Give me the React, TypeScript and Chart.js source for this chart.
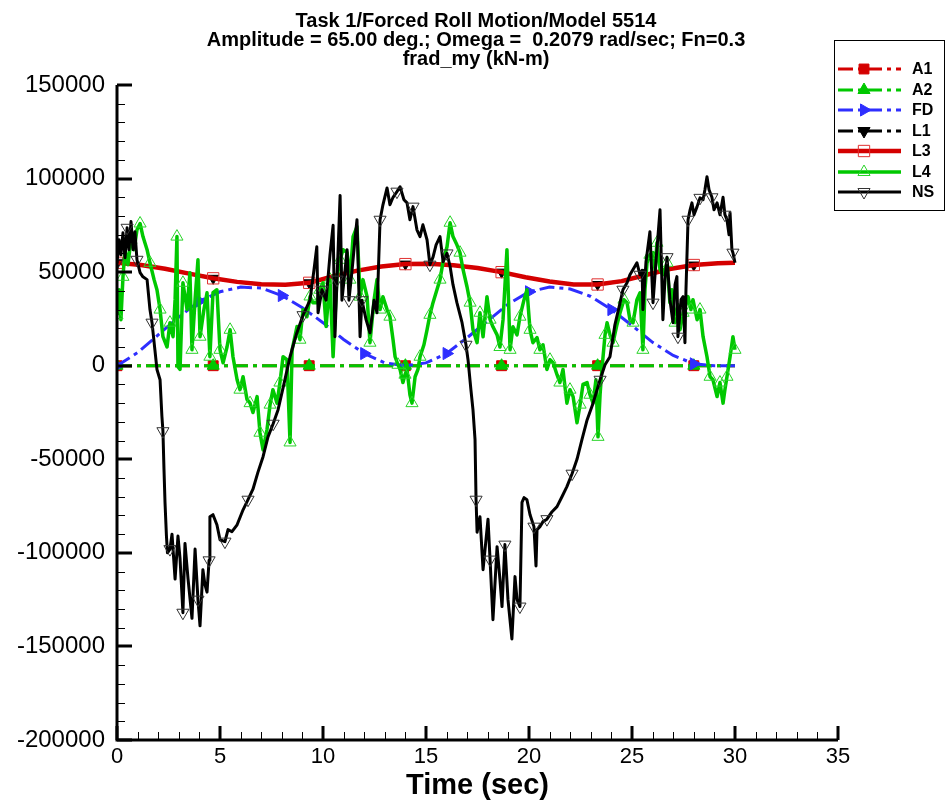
import React, { useEffect, useRef } from 'react';
import { Chart, registerables } from 'chart.js';
import { drawPoint } from 'chart.js/helpers';

Chart.register(...registerables);

const FONT = "'Liberation Sans', Arial, Helvetica, sans-serif";

const titleLines = [
  'Task 1/Forced Roll Motion/Model 5514',
  'Amplitude = 65.00 deg.; Omega =  0.2079 rad/sec; Fn=0.3',
  'frad_my (kN-m)',
];
const xAxisTitle = 'Time (sec)';
const xTicks = [0, 5, 10, 15, 20, 25, 30, 35];
const yTicks = [-200000, -150000, -100000, -50000, 0, 50000, 100000, 150000];
const seriesNames = ['A1', 'A2', 'FD', 'L1', 'L3', 'L4', 'NS'];

// smooth series (A1, A2, L1, L3)
const smoothTime = [0, 1.17, 2.33, 3.5, 4.67, 5.83, 7, 8.17, 9.33, 10.5, 11.67, 12.83, 14, 15.17, 16.33, 17.5, 18.67, 19.83, 21, 22.17, 23.33, 24.5, 25.67, 26.83, 28, 29.17, 30];
const a1Values = [0, 0, 0, 0, 0, 0, 0, 0, 0, 0, 0, 0, 0, 0, 0, 0, 0, 0, 0, 0, 0, 0, 0, 0, 0, 0, 0];
const a2Values = [0, 0, 0, 0, 0, 0, 0, 0, 0, 0, 0, 0, 0, 0, 0, 0, 0, 0, 0, 0, 0, 0, 0, 0, 0, 0, 0];
const l3Values = [55000, 53800, 51800, 49200, 46700, 44800, 43500, 43300, 44300, 47800, 50800, 53000, 54300, 54500, 53700, 52200, 50000, 47300, 45000, 43400, 43400, 45200, 48500, 51700, 53800, 54800, 55000];
const l1Values = [55000, 53800, 51800, 49200, 46700, 44800, 43500, 43300, 44300, 47800, 50800, 53000, 54300, 54500, 53700, 52200, 50000, 47300, 45000, 43400, 43400, 45200, 48500, 51700, 53800, 54800, 55000];

// FD
const fdTime = [0, 1, 2, 3, 4, 5, 6, 7, 8, 9, 10, 11, 12, 13, 14, 15, 16, 17, 18, 19, 20, 21, 22, 23, 24, 25, 26, 27, 28, 29, 30];
const fdValues = [0, 7000, 16500, 26000, 34500, 39500, 42000, 41500, 37500, 31000, 23000, 14000, 6500, 1500, 0, 1500, 6500, 15000, 24000, 33000, 39500, 42000, 41000, 37000, 30000, 21500, 12500, 5500, 1000, 0, 0];

// NS
const nsTime = [0, 0.1, 0.19, 0.29, 0.39, 0.49, 0.58, 0.68, 0.78, 0.87, 0.97, 1.12, 1.26, 1.46, 1.6, 1.7, 1.84, 1.94, 2.09, 2.18, 2.23, 2.28, 2.33, 2.4, 2.45, 2.57, 2.67, 2.82, 2.96, 3.06, 3.2, 3.3, 3.45, 3.64, 3.79, 3.93, 4.03, 4.17, 4.27, 4.37, 4.47, 4.51, 4.66, 4.85, 5.0, 5.24, 5.39, 5.58, 5.83, 6.12, 6.36, 6.6, 6.84, 7.09, 7.33, 7.58, 7.82, 8.1, 8.4, 8.7, 9.03, 9.37, 9.56, 9.7, 9.76, 9.95, 10.15, 10.34, 10.49, 10.58, 10.68, 10.83, 10.92, 11.07, 11.17, 11.26, 11.41, 11.55, 11.65, 11.8, 11.89, 12.09, 12.28, 12.48, 12.62, 12.77, 12.91, 13.11, 13.25, 13.4, 13.59, 13.74, 13.93, 14.08, 14.22, 14.37, 14.56, 14.71, 14.85, 15.05, 15.19, 15.34, 15.49, 15.68, 15.83, 16.02, 16.17, 16.31, 16.5, 16.75, 16.94, 17.04, 17.18, 17.28, 17.38, 17.43, 17.48, 17.62, 17.77, 18.01, 18.11, 18.25, 18.45, 18.59, 18.69, 18.83, 18.98, 19.17, 19.32, 19.42, 19.56, 19.66, 19.76, 19.9, 20.05, 20.24, 20.34, 20.39, 20.53, 20.68, 20.87, 21.12, 21.36, 21.6, 21.84, 22.09, 22.33, 22.57, 22.82, 23.11, 23.45, 23.69, 23.93, 24.17, 24.42, 24.56, 24.76, 24.9, 25.1, 25.24, 25.39, 25.49, 25.53, 25.68, 25.87, 26.02, 26.17, 26.36, 26.5, 26.6, 26.7, 26.84, 26.99, 27.09, 27.18, 27.23, 27.38, 27.48, 27.57, 27.62, 27.72, 27.82, 27.91, 28.01, 28.16, 28.3, 28.45, 28.54, 28.64, 28.74, 28.88, 28.98, 29.13, 29.27, 29.42, 29.51, 29.61, 29.71, 29.76, 29.85, 29.9, 30.0];
const nsValues = [55000, 67300, 59300, 71000, 57700, 73700, 62000, 77000, 62000, 71600, 56600, 49700, 47500, 46000, 30000, 23000, 8500, -2000, -7500, -27000, -35000, -55000, -73000, -91000, -100000, -98000, -90000, -114000, -91000, -103000, -132000, -95000, -114000, -135000, -98000, -125000, -139000, -109000, -117000, -121000, -104000, -80700, -79600, -85000, -93000, -94000, -87600, -88700, -85000, -77000, -71600, -66000, -57000, -48600, -38000, -31000, -23500, -10000, 4800, 16500, 27000, 35000, 51000, 63600, 28300, 40600, 35000, 59300, 75000, 15500, 46000, 91000, 35000, 51000, 62000, 35000, 51000, 67300, 78000, 15500, 35000, 24600, 17600, 35000, 28300, 78000, 86000, 95000, 86000, 90000, 93000, 95600, 88700, 87000, 78000, 85000, 72600, 69000, 75300, 67300, 54000, 58000, 64600, 69000, 55600, 60000, 53000, 43300, 33700, 23000, 11200, 3200, -12800, -23500, -39500, -71600, -89000, -80700, -109000, -82000, -103600, -135700, -96700, -114300, -128700, -95600, -125000, -146000, -112700, -125000, -128700, -73000, -70500, -71600, -79600, -86000, -107000, -87600, -86000, -83300, -82000, -78000, -75300, -70000, -64600, -57700, -50000, -39500, -29000, -20000, -7500, 500, 4800, 21900, 33600, 40600, 44300, 48600, 52400, 55000, 48600, 51000, 30000, 55600, 71600, 33700, 56600, 83300, 24600, 46000, 58000, 35300, 23000, 43300, 47600, 15500, 35300, 36900, 12300, 40600, 78000, 83300, 87000, 80700, 85000, 89700, 88700, 94000, 101000, 94000, 90000, 83300, 87000, 80700, 90000, 80700, 78000, 70000, 81700, 62000, 60400, 55000];

// L4
const l4Time = [0, 0.1, 0.19, 0.29, 0.39, 0.53, 0.68, 0.83, 0.97, 1.12, 1.26, 1.46, 1.6, 1.8, 1.94, 2.09, 2.23, 2.43, 2.57, 2.72, 2.82, 2.91, 2.96, 3.06, 3.2, 3.4, 3.54, 3.64, 3.79, 3.93, 4.03, 4.22, 4.37, 4.51, 4.66, 4.85, 5.0, 5.15, 5.34, 5.49, 5.63, 5.83, 5.97, 6.12, 6.31, 6.46, 6.6, 6.8, 6.94, 7.09, 7.28, 7.43, 7.57, 7.77, 7.91, 8.06, 8.25, 8.4, 8.5, 8.74, 8.88, 9.03, 9.22, 9.37, 9.51, 9.71, 9.85, 10.0, 10.15, 10.34, 10.49, 10.68, 10.83, 10.97, 11.17, 11.31, 11.46, 11.65, 11.8, 11.94, 12.14, 12.28, 12.48, 12.62, 12.77, 12.91, 13.11, 13.25, 13.4, 13.5, 13.64, 13.74, 13.88, 13.98, 14.08, 14.22, 14.32, 14.47, 14.61, 14.71, 14.9, 15.05, 15.19, 15.34, 15.53, 15.68, 15.83, 16.02, 16.17, 16.31, 16.5, 16.65, 16.8, 16.99, 17.14, 17.28, 17.48, 17.62, 17.77, 17.96, 18.11, 18.25, 18.45, 18.59, 18.74, 18.93, 19.08, 19.22, 19.42, 19.56, 19.76, 19.9, 20.05, 20.19, 20.39, 20.53, 20.68, 20.87, 21.02, 21.17, 21.36, 21.5, 21.65, 21.84, 21.99, 22.14, 22.33, 22.48, 22.62, 22.82, 22.96, 23.11, 23.25, 23.35, 23.45, 23.54, 23.69, 23.79, 23.93, 24.08, 24.27, 24.42, 24.61, 24.76, 24.9, 25.05, 25.24, 25.39, 25.53, 25.63, 25.73, 25.87, 26.02, 26.12, 26.21, 26.36, 26.5, 26.7, 26.84, 26.94, 27.09, 27.23, 27.33, 27.48, 27.62, 27.72, 27.86, 27.96, 28.16, 28.3, 28.45, 28.64, 28.79, 28.93, 29.13, 29.27, 29.42, 29.51, 29.61, 29.76, 29.9, 30.0];
const l4Values = [27000, 40600, 24600, 47500, 62000, 54000, 67300, 62000, 72600, 76000, 69000, 62000, 55000, 46000, 40600, 30000, 15500, 10000, 23000, 15500, 35300, 69000, -500, -2000, 44300, 30000, 49700, 8500, 35300, 56600, 15500, 30000, 39000, 4800, 39000, 40600, 8500, 1600, 10000, 19200, 4800, -7500, -12800, -5900, -18000, -20000, -25000, -16500, -35800, -45000, -34200, -20800, -12800, -20000, -9000, 4800, 3200, -41000, 8500, 21000, 13900, 30000, 26200, 37000, 33700, 33700, 40600, 44300, 21000, 46000, 4800, 47500, 56600, 62000, 60400, 46000, 69000, 74300, 36900, 46000, 36900, 12300, 35300, 46000, 30000, 36900, 30000, 26200, 13900, 4800, 500, -2000, -9000, -4800, -2000, -15500, -20000, -5900, -2000, 4800, 11200, 19200, 27200, 33700, 40600, 46000, 55600, 63600, 76400, 69000, 64600, 60400, 51300, 42200, 33700, 19200, 12300, 28300, 15500, 36900, 24600, 20800, 16500, 10000, 24600, 62000, 8500, 20800, 16500, 26200, 35300, 40600, 19200, 12300, 15000, 8500, 11200, -2000, 3200, 1600, -4800, -9000, -2000, -20000, -12800, -16500, -30500, -20800, -10000, -9000, -15500, -20000, -7500, -38000, -15500, -2000, 16500, 23000, 16500, 12300, 21900, 28300, 35300, 33700, 24600, 23000, 35300, 39000, 8500, 40600, 55000, 59300, 60400, 51300, 65700, 51300, 48600, 55000, 33700, 40600, 23000, 32600, 19200, 28300, 32600, 36900, 30000, 35300, 24600, 30000, 15500, 4800, -5900, -7500, -16500, -9000, -20000, -12800, -5900, 4800, 15500, 8500];

const RED = '#d40000';
const GREEN = '#00c800';
const BLUE = '#2e2eff';
const BLACK = '#000000';
const DASH = [15, 5, 4, 5];

const pts = (xs: number[], ys: number[]) => xs.map((x, i) => ({ x, y: ys[i] }));

function markerEvery(every: number, r: number) {
  return (c: any) => (c.dataIndex % every === 0 ? r : 0);
}

const axesPlugin = {
  id: 'tecAxes',
  afterDatasetsDraw(chart: any) {
    const { ctx, chartArea, scales } = chart;
    const { left, right, top, bottom } = chartArea;
    const xs = scales.x;
    const ys = scales.y;
    ctx.save();
    ctx.strokeStyle = '#000';
    ctx.lineCap = 'butt';
    ctx.lineWidth = 1;
    ctx.beginPath();
    for (let v = -200000; v <= 150000; v += 10000) {
      if (v % 50000 === 0) continue;
      const py = Math.round(ys.getPixelForValue(v)) + 0.5;
      ctx.moveTo(left, py);
      ctx.lineTo(left + 8, py);
    }
    for (let v = 0; v <= 35; v += 1) {
      if (v % 5 === 0) continue;
      const px = Math.round(xs.getPixelForValue(v)) + 0.5;
      ctx.moveTo(px, bottom);
      ctx.lineTo(px, bottom - 8);
    }
    ctx.stroke();
    ctx.lineWidth = 3;
    ctx.beginPath();
    yTicks.forEach((v) => {
      const py = Math.round(ys.getPixelForValue(v));
      ctx.moveTo(left, py);
      ctx.lineTo(left + 15, py);
    });
    xTicks.forEach((v) => {
      const px = Math.round(xs.getPixelForValue(v));
      ctx.moveTo(px, bottom);
      ctx.lineTo(px, bottom - 14);
    });
    ctx.stroke();
    ctx.beginPath();
    ctx.moveTo(left, top);
    ctx.lineTo(left, bottom + 1.5);
    ctx.moveTo(left - 1.5, bottom);
    ctx.lineTo(right, bottom);
    ctx.stroke();
    ctx.restore();
  },
};

const decorPlugin = {
  id: 'decor',
  afterDraw(chart: any) {
    const ctx = chart.ctx;
    ctx.save();
    ctx.fillStyle = '#000';
    ctx.font = `bold 20px ${FONT}`;
    ctx.textAlign = 'center';
    ctx.textBaseline = 'alphabetic';
    const tY = [27, 46, 65];
    titleLines.forEach((t, i) => ctx.fillText(t, 476, tY[i]));
    ctx.strokeStyle = '#000';
    ctx.lineWidth = 1;
    ctx.strokeRect(834.5, 40.5, 110, 170);
    seriesNames.forEach((name, i) => {
      const ds = chart.data.datasets.find((d: any) => d.label === name);
      const y = Math.round(69 + i * 20.5);
      ctx.save();
      ctx.setLineDash(ds.borderDash || []);
      ctx.strokeStyle = ds.borderColor;
      ctx.lineWidth = ds.borderWidth;
      ctx.beginPath();
      ctx.moveTo(838, y);
      ctx.lineTo(901, y);
      ctx.stroke();
      ctx.setLineDash([]);
      ctx.fillStyle = ds.pointBackgroundColor;
      ctx.strokeStyle = ds.pointBorderColor;
      ctx.lineWidth = ds.pointBorderWidth;
      drawPoint(ctx, { pointStyle: ds.pointStyle, rotation: ds.pointRotation || 0, radius: ds.legendRadius, borderWidth: ds.pointBorderWidth }, 864, y);
      ctx.restore();
      ctx.fillStyle = '#000';
      ctx.font = `bold 16px ${FONT}`;
      ctx.textAlign = 'left';
      ctx.textBaseline = 'middle';
      ctx.fillText(name, 912, y + 1);
    });
    ctx.restore();
  },
};

export default function App() {
  const canvasRef = useRef<HTMLCanvasElement | null>(null);

  useEffect(() => {
    document.body.style.margin = '0';
    const canvas = canvasRef.current;
    if (!canvas) return;
    Chart.defaults.font.family = FONT;
    const chart = new Chart(canvas, {
      type: 'line',
      data: {
        datasets: [
          {
            label: 'NS', data: pts(nsTime, nsValues), order: 0,
            borderColor: BLACK, borderWidth: 3, borderJoinStyle: 'round',
            pointStyle: 'triangle', pointRotation: 180, pointBackgroundColor: 'rgba(0,0,0,0)',
            pointBorderColor: '#333', pointBorderWidth: 1, pointRadius: markerEvery(5, 7), legendRadius: 7,
          },
          {
            label: 'L4', data: pts(l4Time, l4Values), order: 1,
            borderColor: GREEN, borderWidth: 3.5, borderJoinStyle: 'round',
            pointStyle: 'triangle', pointRotation: 0, pointBackgroundColor: 'rgba(0,0,0,0)',
            pointBorderColor: '#2ad42a', pointBorderWidth: 1, pointRadius: markerEvery(3, 7), legendRadius: 7,
          },
          {
            label: 'L3', data: pts(smoothTime, l3Values), order: 2,
            borderColor: RED, borderWidth: 4.5, borderJoinStyle: 'round',
            pointStyle: 'rect', pointRotation: 0, pointBackgroundColor: 'rgba(0,0,0,0)',
            pointBorderColor: '#e03030', pointBorderWidth: 1, pointRadius: markerEvery(4, 8), legendRadius: 8,
          },
          {
            label: 'L1', data: pts(smoothTime, l1Values), order: 3,
            borderColor: BLACK, borderWidth: 3, borderDash: DASH,
            pointStyle: 'triangle', pointRotation: 180, pointBackgroundColor: BLACK,
            pointBorderColor: BLACK, pointBorderWidth: 1, pointRadius: markerEvery(4, 6), legendRadius: 7,
          },
          {
            label: 'FD', data: pts(fdTime, fdValues), order: 4,
            borderColor: BLUE, borderWidth: 3, borderDash: DASH,
            pointStyle: 'triangle', pointRotation: 90, pointBackgroundColor: BLUE,
            pointBorderColor: BLUE, pointBorderWidth: 1, pointRadius: markerEvery(4, 7), legendRadius: 7,
          },
          {
            label: 'A2', data: pts(smoothTime, a2Values), order: 5,
            borderColor: GREEN, borderWidth: 3, borderDash: DASH,
            pointStyle: 'triangle', pointRotation: 0, pointBackgroundColor: GREEN,
            pointBorderColor: GREEN, pointBorderWidth: 1, pointRadius: markerEvery(4, 7), legendRadius: 7,
          },
          {
            label: 'A1', data: pts(smoothTime, a1Values), order: 6,
            borderColor: RED, borderWidth: 3, borderDash: DASH,
            pointStyle: 'rect', pointRotation: 0, pointBackgroundColor: RED,
            pointBorderColor: RED, pointBorderWidth: 1, pointRadius: markerEvery(4, 7), legendRadius: 7,
          },
        ] as any,
      },
      options: {
        animation: false,
        responsive: false,
        devicePixelRatio: 1,
        events: [],
        layout: { padding: { left: 0, right: 110, top: 85, bottom: 0 } },
        plugins: { legend: { display: false }, tooltip: { enabled: false }, title: { display: false } },
        elements: { line: { tension: 0 } },
        scales: {
          x: {
            type: 'linear', min: 0, max: 35,
            afterBuildTicks: (s: any) => { s.ticks = xTicks.map((v) => ({ value: v })); },
            afterFit: (s: any) => { s.height = 65; },
            ticks: { color: '#000', font: { size: 22, family: FONT }, padding: 4, maxRotation: 0, autoSkip: false, callback: (v: any) => String(v) },
            grid: { display: false, drawTicks: false },
            border: { display: false },
            title: { display: true, text: xAxisTitle, color: '#000', font: { size: 29, weight: 'bold', family: FONT }, padding: { top: 0, bottom: 2 } },
          },
          y: {
            type: 'linear', min: -200000, max: 150000,
            afterBuildTicks: (s: any) => { s.ticks = yTicks.map((v) => ({ value: v })); },
            afterFit: (s: any) => { s.width = 117; },
            ticks: { color: '#000', font: { size: 24, family: FONT }, padding: 12, autoSkip: false, callback: (v: any) => String(v) },
            grid: { display: false, drawTicks: false },
            border: { display: false },
          },
        },
      } as any,
      plugins: [axesPlugin, decorPlugin],
    });
    return () => chart.destroy();
  }, []);

  return (
    <div style={{ width: 948, height: 805 }}>
      <canvas ref={canvasRef} width={948} height={805} style={{ display: 'block' }} />
    </div>
  );
}
